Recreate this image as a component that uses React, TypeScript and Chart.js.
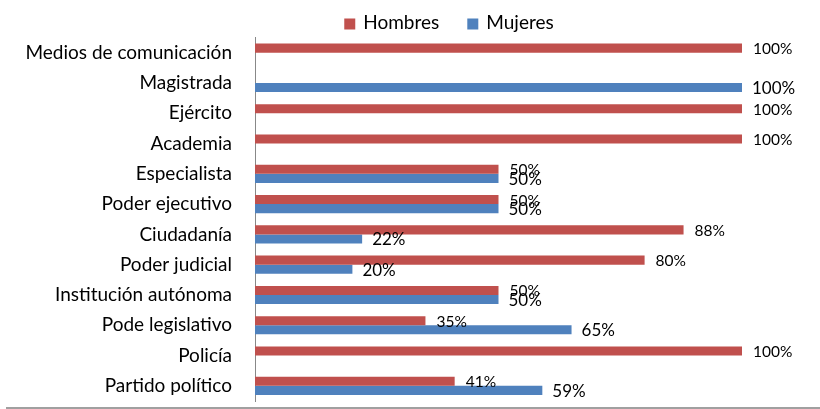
import React, { useEffect, useRef } from "react";
import { Chart, registerables } from "chart.js";

Chart.register(...registerables);

const categories = [
  "Medios de comunicación",
  "Magistrada",
  "Ejército",
  "Academia",
  "Especialista",
  "Poder ejecutivo",
  "Ciudadanía",
  "Poder judicial",
  "Institución autónoma",
  "Pode legislativo",
  "Policía",
  "Partido político",
];
const seriesNames = ["Hombres", "Mujeres"];
const hombres = [100, null, 100, 100, 50, 50, 88, 80, 50, 35, 100, 41];
const mujeres = [null, 100, null, null, 50, 50, 22, 20, 50, 65, null, 59];
const xMax = 110;

const RED = "#C0504D";
const BLUE = "#4F81BD";
const FONT = "Lato, 'Open Sans', sans-serif";

const labelPlugin = {
  id: "barValueLabels",
  afterDatasetsDraw(chart: any) {
    const ctx = chart.ctx;
    chart.data.datasets.forEach((ds: any, i: number) => {
      const meta = chart.getDatasetMeta(i);
      meta.data.forEach((el: any, j: number) => {
        const v = ds.data[j];
        if (v === null || v === undefined) return;
        ctx.save();
        ctx.font = i === 0 ? `15.5px ${FONT}` : `17px ${FONT}`;
        ctx.fillStyle = "#000";
        ctx.textAlign = "left";
        ctx.textBaseline = "middle";
        ctx.fillText(`${v}%`, el.x + (i === 0 ? 11 : 10), el.y + 1);
        ctx.restore();
      });
    });
  },
};

const legendPlugin = {
  id: "topLegend",
  afterDraw(chart: any) {
    const ctx = chart.ctx;
    const box = 11;
    const gapText = 8;
    const gapItem = 28;
    const centerX = 449;
    const centerY = 23;
    ctx.save();
    ctx.font = `19px ${FONT}`;
    const items = chart.data.datasets.map((ds: any) => ({
      text: ds.label,
      color: ds.backgroundColor,
      w: box + gapText + ctx.measureText(ds.label).width,
    }));
    const total =
      items.reduce((s: number, it: any) => s + it.w, 0) + gapItem * (items.length - 1);
    let x = centerX - total / 2;
    items.forEach((it: any) => {
      ctx.fillStyle = it.color;
      ctx.fillRect(x, centerY - box / 2 + 1, box, box);
      ctx.fillStyle = "#000";
      ctx.textAlign = "left";
      ctx.textBaseline = "middle";
      ctx.fillText(it.text, x + box + gapText, centerY);
      x += it.w + gapItem;
    });
    ctx.restore();
  },
};

export default function App() {
  const ref = useRef<HTMLCanvasElement | null>(null);

  useEffect(() => {
    if (!ref.current) return;
    const chart = new Chart(ref.current, {
      type: "bar",
      data: {
        labels: categories,
        datasets: [
          {
            label: seriesNames[0],
            data: hombres,
            backgroundColor: RED,
            borderWidth: 0,
            categoryPercentage: 0.6,
            barPercentage: 1,
          },
          {
            label: seriesNames[1],
            data: mujeres,
            backgroundColor: BLUE,
            borderWidth: 0,
            categoryPercentage: 0.6,
            barPercentage: 1,
          },
        ],
      },
      options: {
        indexAxis: "y",
        animation: false,
        responsive: false,
        maintainAspectRatio: false,
        layout: {
          padding: { top: 37.5, bottom: 8, left: 0, right: 29.3 },
        },
        plugins: {
          tooltip: { enabled: false },
          legend: { display: false },
        },
        scales: {
          x: {
            display: false,
            min: 0,
            max: xMax,
            grid: { display: false },
          },
          y: {
            grid: { display: false, drawTicks: false },
            border: { display: true, color: "#888", width: 1 },
            ticks: {
              color: "#000",
              padding: 23,
              font: { family: FONT, size: 19 },
            },
            afterFit: (scale: any) => {
              scale.width = 255;
              scale.paddingTop = 0;
              scale.paddingBottom = 0;
            },
          },
        },
      },
      plugins: [labelPlugin, legendPlugin],
    });
    return () => chart.destroy();
  }, []);

  return (
    <div style={{ position: "fixed", left: 0, top: 0, width: 820, height: 409, background: "#fff" }}>
      <canvas ref={ref} width={820} height={409} style={{ width: 820, height: 409, display: "block" }} />
      <div
        style={{
          position: "absolute",
          left: 6,
          top: 407,
          width: 814,
          height: 2,
          background: "#a0a0a0",
        }}
      />
    </div>
  );
}
